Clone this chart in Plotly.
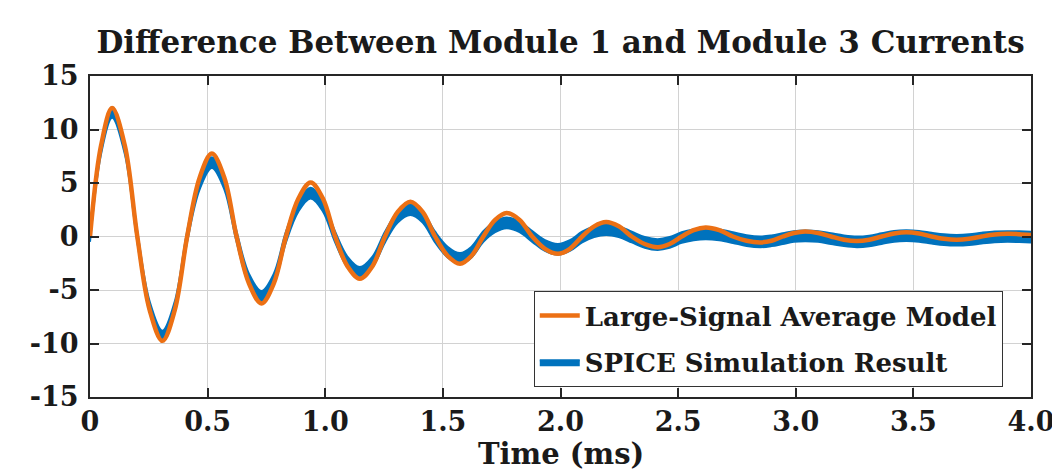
import plotly.graph_objects as go

# ---- data ----
time_ms = [0.000, 0.047, 0.094, 0.148, 0.201, 0.254, 0.308, 0.360, 0.413, 0.466,
           0.518, 0.571, 0.623, 0.676, 0.729, 0.781, 0.833, 0.886, 0.938, 0.990,
           1.042, 1.095, 1.147, 1.200, 1.254, 1.308, 1.362, 1.414, 1.467, 1.520,
           1.573, 1.622, 1.672, 1.722, 1.771, 1.826, 1.880, 1.934, 1.989, 2.040,
           2.092, 2.143, 2.194, 2.248, 2.303, 2.358, 2.413, 2.464, 2.515, 2.566,
           2.617, 2.675, 2.733, 2.791, 2.850, 2.897, 2.945, 2.992, 3.040, 3.095,
           3.150, 3.205, 3.260, 3.312, 3.365, 3.418, 3.470, 3.524, 3.577, 3.630,
           3.684, 3.737, 3.790, 3.845, 3.900, 3.950, 4.000]

model_ma = [0, 8.5, 12.0, 8.5, 0, -6.9, -9.75, -6.9, 0, 5.5,
            7.75, 5.5, 0, -4.4, -6.25, -4.4, 0, 3.55, 5.05, 3.55,
            0, -2.8, -3.95, -2.8, 0, 2.3, 3.25, 2.3, 0, -1.8,
            -2.55, -1.8, 0, 1.55, 2.2, 1.55, 0, -1.15, -1.62, -1.15,
            0, 0.95, 1.35, 0.95, 0, -0.7, -1.0, -0.7, 0, 0.6,
            0.85, 0.6, 0, -0.4, -0.55, -0.4, 0, 0.33, 0.47, 0.33,
            0, -0.3, -0.42, -0.3, 0, 0.28, 0.4, 0.28, 0, -0.21,
            -0.3, -0.21, 0, 0.18, 0.25, 0.22, 0.14]

spice_ma = [0, 8.2, 11.6, 8.2, 0, -6.6, -9.3, -6.6, 0, 4.9,
            6.9, 4.9, 0, -4.0, -5.6, -4.0, -0.05, 2.85, 4.05, 2.85,
            -0.05, -2.4, -3.35, -2.4, -0.05, 1.8, 2.5, 1.8, -0.05, -1.45,
            -2.05, -1.45, 0, 0.9, 1.27, 0.9, 0, -0.85, -1.2, -0.85,
            -0.05, 0.45, 0.65, 0.45, -0.05, -0.55, -0.75, -0.55, -0.1, 0.15,
            0.25, 0.15, -0.1, -0.38, -0.5, -0.4, -0.2, 0.0, 0.05, 0.0,
            -0.2, -0.4, -0.5, -0.42, -0.2, 0.02, 0.08, 0.02, -0.15, -0.3,
            -0.35, -0.3, -0.15, -0.03, 0.0, -0.02, -0.05]

spice_ripple_ma = 0.5  # half-height of the switching-ripple band

x_tick_vals = [0, 0.5, 1.0, 1.5, 2.0, 2.5, 3.0, 3.5, 4.0]
x_tick_text = ["0", "0.5", "1.0", "1.5", "2.0", "2.5", "3.0", "3.5", "4.0"]
y_tick_vals = [-15, -10, -5, 0, 5, 10, 15]
y_tick_text = ["-15", "-10", "-5", "0", "5", "10", "15"]

title_text = "Difference Between Module 1 and Module 3 Currents"
x_title = "Time (ms)"
model_name = "Large-Signal Average Model"
spice_name = "SPICE Simulation Result"

# ---- styling ----
ORANGE = "#EC7014"
BLUE = "#0072BD"
FONT = "DejaVu Serif"
AXIS = "#262626"
GRID = "#d2d2d2"
TXT = "#1a1a1a"

# page body has an 8px default margin: size the figure to fit the window
FIG_W, FIG_H = 1052, 463

spice_low = [v - spice_ripple_ma for v in spice_ma]
spice_high = [v + spice_ripple_ma for v in spice_ma]

fig = go.Figure()
fig.add_trace(go.Scatter(
    x=time_ms, y=spice_low, mode="lines",
    line=dict(color=BLUE, width=2, shape="spline"),
    showlegend=False, hoverinfo="skip", legendgroup="b"))
fig.add_trace(go.Scatter(
    x=time_ms, y=spice_high, mode="lines", fill="tonexty", fillcolor=BLUE,
    line=dict(color=BLUE, width=2, shape="spline"),
    name=spice_name, legendgroup="b", legendrank=2))
fig.add_trace(go.Scatter(
    x=time_ms, y=model_ma, mode="lines",
    line=dict(color=ORANGE, width=4.5, shape="spline"),
    name=model_name, legendgroup="a", legendrank=1))

axis_common = dict(
    showline=True, linecolor=AXIS, linewidth=2, mirror="ticks",
    ticks="inside", ticklen=9, tickwidth=1.5, tickcolor=AXIS,
    showgrid=True, gridcolor=GRID, gridwidth=1, zeroline=False,
    automargin=False,
    tickfont=dict(family=FONT, size=27, color=TXT, weight="bold"),
)

fig.update_xaxes(range=[0, 4], tickmode="array", tickvals=x_tick_vals,
                 ticktext=x_tick_text, **axis_common)
fig.update_yaxes(range=[-15, 15], tickmode="array", tickvals=y_tick_vals,
                 ticktext=y_tick_text, ticklabelstandoff=4, **axis_common)

# x-axis title placed below the tick labels
fig.add_annotation(text=x_title, xref="paper", yref="paper", x=0.5, y=0,
                   xanchor="center", yanchor="top", yshift=-38,
                   showarrow=False,
                   font=dict(family=FONT, size=29, color=TXT, weight="bold"))

fig.update_layout(
    width=FIG_W, height=FIG_H,
    margin=dict(l=82, r=29, t=68, b=74),
    paper_bgcolor="white", plot_bgcolor="white",
    title=dict(text=title_text, x=0.5, xref="paper",
               xanchor="center", y=1 - 34 / FIG_H, yref="container",
               yanchor="middle",
               font=dict(family=FONT, size=31, color=TXT, weight="bold")),
    legend=dict(x=0.970, xanchor="right", y=0.031, yanchor="bottom",
                bgcolor="white", bordercolor="#333333", borderwidth=1,
                tracegroupgap=10, itemwidth=40,
                font=dict(family=FONT, size=26, color=TXT, weight="bold")),
    font=dict(family=FONT, color=TXT),
)

fig.write_html("out.html")
